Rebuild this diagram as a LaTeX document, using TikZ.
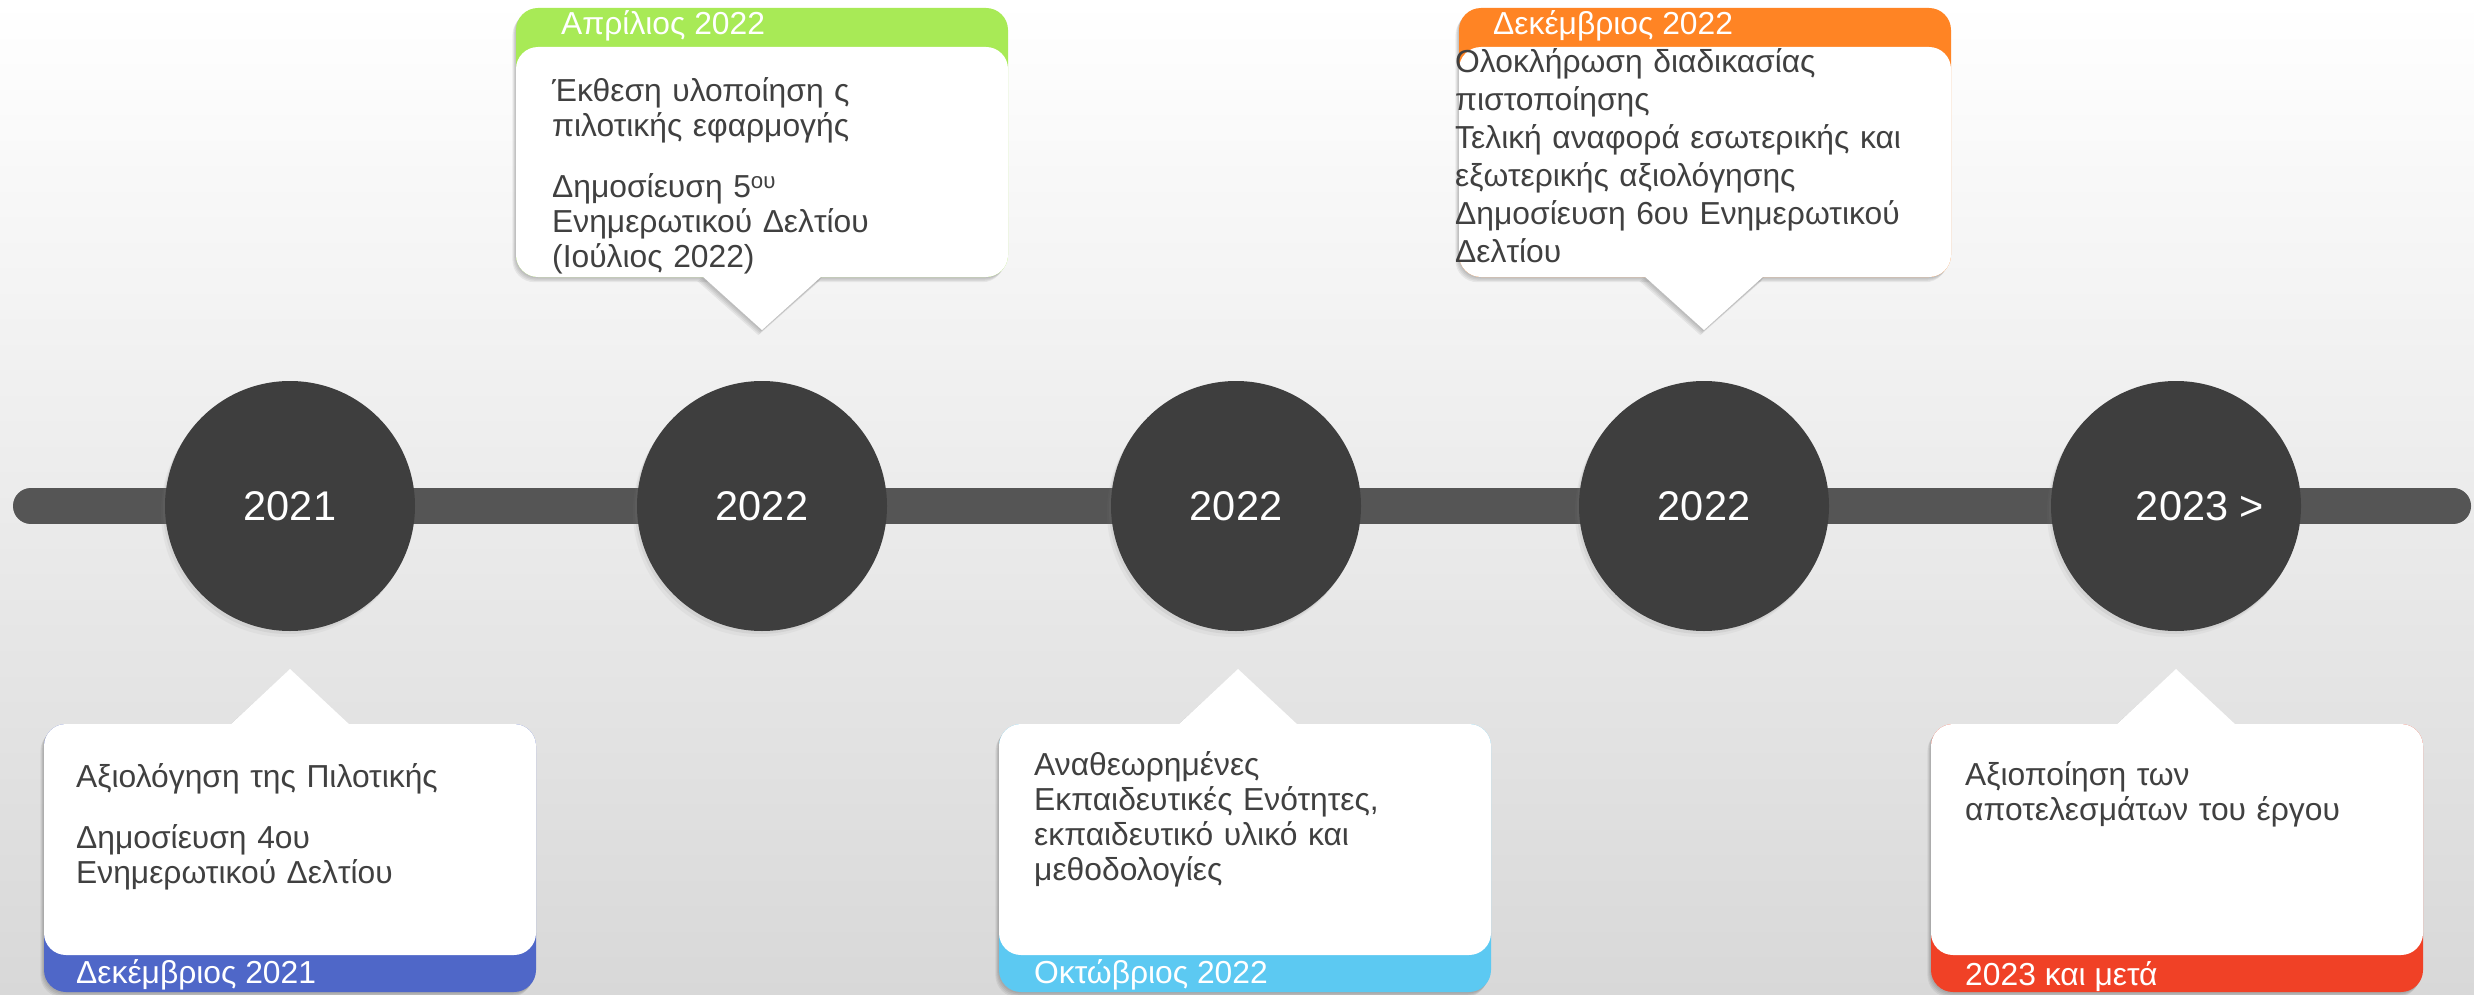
\documentclass[tikz,border=0pt]{standalone}
\usepackage{fontspec}
\setmainfont{Liberation Sans}
\usetikzlibrary{shadows}
\definecolor{bgbot}{HTML}{D8D8D8}
\definecolor{barc}{HTML}{555555}
\definecolor{circc}{HTML}{3E3E3E}
\definecolor{txt}{HTML}{404040}
\definecolor{cgreen}{HTML}{A8EA56}
\definecolor{corange}{HTML}{FF8424}
\definecolor{cblue}{HTML}{4F67C8}
\definecolor{clight}{HTML}{5CC9F2}
\definecolor{cred}{HTML}{F04126}
\tikzset{
  yearc/.style={circle, fill=circc, minimum size=250pt, inner sep=0pt, text=white,
    font=\fontsize{41.5}{48}\selectfont,
    drop shadow={shadow xshift=-2pt, shadow yshift=-3pt, opacity=.12},
    drop shadow={shadow xshift=-4pt, shadow yshift=-6pt, opacity=.08}},
  body/.style={anchor=base west, text=txt, font=\fontsize{31.8}{35}\selectfont,
    text width=600pt, align=left, inner sep=0pt},
  head/.style={anchor=base west, text=white, font=\fontsize{31.8}{35}\selectfont, inner sep=0pt},
  shad/.style={black, opacity=.06},
  barline/.style={barc, line width=36pt, line cap=round},
}
% bottom box: #1 left x, #2 apex x, #3 colour
\newcommand\bottombox[3]{%
  \foreach \s in {1,2,3,4}{%
    \fill[shad, shift={(-\s*0.9,\s*1.3)}, rounded corners=22pt] (#1,724) rectangle ++(492,268);
    \fill[shad, shift={(-\s*0.9,\s*1.3)}] (#2-61,725) -- (#2,669) -- (#2+61,725) -- cycle;
  }
  \fill[#3, rounded corners=22pt] (#1,724) rectangle ++(492,268);
  \fill[white, rounded corners=22pt] (#1,724) rectangle ++(492,231);
  \fill[white] (#2-61,726) -- (#2,669) -- (#2+61,726) -- cycle;
}
% top box: #1 left x, #2 apex x, #3 colour
\newcommand\topbox[3]{%
  \foreach \s in {1,2,3,4}{%
    \fill[shad, shift={(-\s*0.9,\s*1.3)}, rounded corners=22pt] (#1,8) rectangle ++(492,269);
    \fill[shad, shift={(-\s*0.9,\s*1.3)}] (#2-61,276) -- (#2,330) -- (#2+61,276) -- cycle;
  }
  \fill[#3, rounded corners=22pt] (#1,8) rectangle ++(492,269);
  \fill[white, rounded corners=22pt] (#1,47) rectangle ++(492,230);
  \fill[white] (#2-61,275) -- (#2,330) -- (#2+61,275) -- cycle;
}
\begin{document}
\begin{tikzpicture}[x=1pt, y=-1pt]
  \useasboundingbox (0,0) rectangle (2474,995);
  \shade[top color=white, bottom color=bgbot] (0,0) rectangle (2474,995);

  % timeline bar
  \coordinate (barL) at (31,506);
  \coordinate (barR) at (2453,506);
  \foreach \s in {1,2,3}{\draw[barline, black, opacity=.06, shift={(-\s,\s*1.5)}] (barL) -- (barR);}
  \draw[barline] (barL) -- (barR);

  % year circles
  \node[yearc] (c1) at (290,506) {2021};
  \node[yearc] (c2) at (762,506) {2022};
  \node[yearc] (c3) at (1236,506) {2022};
  \node[yearc] (c4) at (1704,506) {2022};
  \node[yearc] (c5) at (2176,506) {\hspace*{48pt}2023 >};

  % boxes
  \bottombox{44}{290}{cblue}
  \topbox{516}{762}{cgreen}
  \topbox{1459}{1704}{corange}
  \bottombox{999}{1238}{clight}
  \bottombox{1931}{2176}{cred}

  % texts
  \node[body] (t1) at (76,787) {Αξιολόγηση της Πιλοτικής\\[26pt]Δημοσίευση 4ου\\Ενημερωτικού Δελτίου};
  \node[head] (h1) at (76,983) {Δεκέμβριος 2021};

  \node[body] (t2) at (552,102) {Έκθεση υλοποίηση ς\\πιλοτικής εφαρμογής\\[26pt]Δημοσίευση 5\textsuperscript{ου}\\Ενημερωτικού Δελτίου\\(Ιούλιος 2022)};
  \node[head] (h2) at (561,35) {Απρίλιος 2022};

  \node[body, font=\fontsize{31.8}{38}\selectfont] (t3) at (1455,73) {Ολοκλήρωση διαδικασίας\\πιστοποίησης\\Τελική αναφορά εσωτερικής και\\εξωτερικής αξιολόγησης\\Δημοσίευση 6ου Ενημερωτικού\\Δελτίου};
  \node[head] (h3) at (1493,35) {Δεκέμβριος 2022};

  \node[body] (t4) at (1034,775) {Αναθεωρημένες\\Εκπαιδευτικές Ενότητες,\\εκπαιδευτικό υλικό και\\μεθοδολογίες};
  \node[head] (h4) at (1034,983) {Οκτώβριος 2022};

  \node[body] (t5) at (1965,785) {Αξιοποίηση των\\αποτελεσμάτων του έργου};
  \node[head] (h5) at (1965,985) {2023 και μετά};
\end{tikzpicture}
\end{document}
